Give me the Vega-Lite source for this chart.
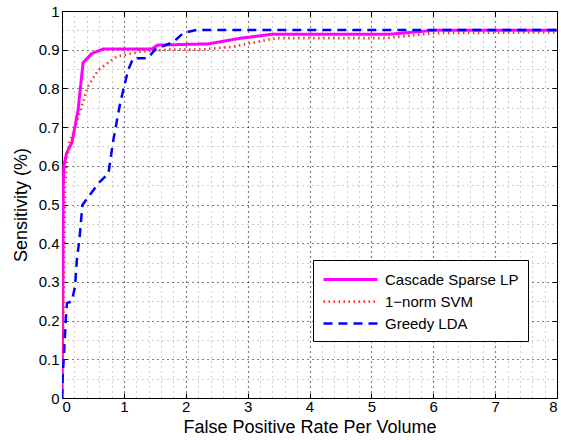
{
  "$schema": "https://vega.github.io/schema/vega-lite/v6.json",
  "width": 495,
  "height": 387,
  "padding": {"left": 62, "top": 11, "right": 4, "bottom": 42},
  "autosize": {"type": "none"},
  "background": "white",
  "config": {
    "font": "Liberation Sans",
    "view": {"stroke": "black", "strokeWidth": 1}
  },
  "data": {"values": [
    {"method": "Cascade Sparse LP", "x": 0, "y": 0},
    {"method": "Cascade Sparse LP", "x": 0.015, "y": 0.3},
    {"method": "Cascade Sparse LP", "x": 0.02, "y": 0.55},
    {"method": "Cascade Sparse LP", "x": 0.03, "y": 0.6},
    {"method": "Cascade Sparse LP", "x": 0.075, "y": 0.633},
    {"method": "Cascade Sparse LP", "x": 0.16, "y": 0.66},
    {"method": "Cascade Sparse LP", "x": 0.26, "y": 0.744},
    {"method": "Cascade Sparse LP", "x": 0.34, "y": 0.866},
    {"method": "Cascade Sparse LP", "x": 0.48, "y": 0.89},
    {"method": "Cascade Sparse LP", "x": 0.67, "y": 0.902},
    {"method": "Cascade Sparse LP", "x": 1.45, "y": 0.902},
    {"method": "Cascade Sparse LP", "x": 1.55, "y": 0.912},
    {"method": "Cascade Sparse LP", "x": 2.36, "y": 0.915},
    {"method": "Cascade Sparse LP", "x": 2.9, "y": 0.93},
    {"method": "Cascade Sparse LP", "x": 3.4, "y": 0.94},
    {"method": "Cascade Sparse LP", "x": 5.3, "y": 0.94},
    {"method": "Cascade Sparse LP", "x": 6.0, "y": 0.95},
    {"method": "Cascade Sparse LP", "x": 8, "y": 0.95},
    {"method": "1−norm SVM", "x": 0, "y": 0},
    {"method": "1−norm SVM", "x": 0.03, "y": 0.3},
    {"method": "1−norm SVM", "x": 0.05, "y": 0.55},
    {"method": "1−norm SVM", "x": 0.08, "y": 0.62},
    {"method": "1−norm SVM", "x": 0.12, "y": 0.66},
    {"method": "1−norm SVM", "x": 0.21, "y": 0.7},
    {"method": "1−norm SVM", "x": 0.42, "y": 0.805},
    {"method": "1−norm SVM", "x": 0.59, "y": 0.848},
    {"method": "1−norm SVM", "x": 0.88, "y": 0.882},
    {"method": "1−norm SVM", "x": 1.26, "y": 0.895},
    {"method": "1−norm SVM", "x": 1.7, "y": 0.9},
    {"method": "1−norm SVM", "x": 2.23, "y": 0.9},
    {"method": "1−norm SVM", "x": 2.77, "y": 0.908},
    {"method": "1−norm SVM", "x": 3.3, "y": 0.925},
    {"method": "1−norm SVM", "x": 3.5, "y": 0.93},
    {"method": "1−norm SVM", "x": 5.25, "y": 0.93},
    {"method": "1−norm SVM", "x": 6.0, "y": 0.943},
    {"method": "1−norm SVM", "x": 8, "y": 0.945},
    {"method": "Greedy LDA", "x": 0, "y": 0},
    {"method": "Greedy LDA", "x": 0.01, "y": 0.05},
    {"method": "Greedy LDA", "x": 0.03, "y": 0.107},
    {"method": "Greedy LDA", "x": 0.06, "y": 0.2},
    {"method": "Greedy LDA", "x": 0.08, "y": 0.245},
    {"method": "Greedy LDA", "x": 0.16, "y": 0.25},
    {"method": "Greedy LDA", "x": 0.21, "y": 0.288},
    {"method": "Greedy LDA", "x": 0.24, "y": 0.357},
    {"method": "Greedy LDA", "x": 0.28, "y": 0.408},
    {"method": "Greedy LDA", "x": 0.33, "y": 0.499},
    {"method": "Greedy LDA", "x": 0.59, "y": 0.555},
    {"method": "Greedy LDA", "x": 0.75, "y": 0.58},
    {"method": "Greedy LDA", "x": 0.83, "y": 0.667},
    {"method": "Greedy LDA", "x": 0.94, "y": 0.762},
    {"method": "Greedy LDA", "x": 1.07, "y": 0.848},
    {"method": "Greedy LDA", "x": 1.15, "y": 0.878},
    {"method": "Greedy LDA", "x": 1.39, "y": 0.878},
    {"method": "Greedy LDA", "x": 1.5, "y": 0.9},
    {"method": "Greedy LDA", "x": 1.8, "y": 0.92},
    {"method": "Greedy LDA", "x": 1.96, "y": 0.943},
    {"method": "Greedy LDA", "x": 2.18, "y": 0.951},
    {"method": "Greedy LDA", "x": 8, "y": 0.951}
  ]},
  "resolve": {"axis": {"x": "independent", "y": "independent"}},
  "layer": [
    {
      "mark": {"type": "line", "clip": true},
      "encoding": {
        "x": {
          "field": "x", "type": "quantitative",
          "scale": {"domain": [0, 8], "nice": false, "zero": false},
          "axis": {
            "title": "False Positive Rate Per Volume",
            "titleFontSize": 18, "titleFontWeight": "normal", "titleColor": "black", "titlePadding": 4,
            "values": [0,0.2,0.4,0.6,0.8,1,1.2,1.4,1.6,1.8,2,2.2,2.4,2.6,2.8,3,3.2,3.4,3.6,3.8,4,4.2,4.4,4.6,4.8,5,5.2,5.4,5.6,5.8,6,6.2,6.4,6.6,6.8,7,7.2,7.4,7.6,7.8,8],
            "labelExpr": "abs(datum.value - round(datum.value)) < 1e-6 ? format(datum.value, 'd') : ''",
            "labelFontSize": 15, "labelColor": "black", "labelPadding": 6,
            "domainColor": "black",
            "tickSize": -5, "tickColor": "black",
            "tickOpacity": {"condition": {"test": "abs(datum.value - round(datum.value)) < 1e-6", "value": 1}, "value": 0},
            "grid": true,
            "gridDash": [1, 4],
            "gridColor": {"condition": {"test": "abs(datum.value - round(datum.value)) < 1e-6", "value": "#000000"}, "value": "#888888"},
            "gridWidth": {"condition": {"test": "abs(datum.value - round(datum.value)) < 1e-6", "value": 1.2}, "value": 0.8}
          }
        },
        "y": {
          "field": "y", "type": "quantitative",
          "scale": {"domain": [0, 1], "nice": false, "zero": false},
          "axis": {
            "title": "Sensitivity (%)",
            "titleFontSize": 18, "titleFontWeight": "normal", "titleColor": "black", "titlePadding": 8,
            "values": [0,0.05,0.1,0.15,0.2,0.25,0.3,0.35,0.4,0.45,0.5,0.55,0.6,0.65,0.7,0.75,0.8,0.85,0.9,0.95,1],
            "labelExpr": "abs(datum.value*10 - round(datum.value*10)) < 1e-6 ? format(datum.value, '~g') : ''",
            "labelFontSize": 15, "labelColor": "black", "labelPadding": 8,
            "domainColor": "black",
            "tickSize": -5, "tickColor": "black",
            "tickOpacity": {"condition": {"test": "abs(datum.value*10 - round(datum.value*10)) < 1e-6", "value": 1}, "value": 0},
            "grid": true,
            "gridDash": [1, 4],
            "gridColor": {"condition": {"test": "abs(datum.value*10 - round(datum.value*10)) < 1e-6", "value": "#000000"}, "value": "#888888"},
            "gridWidth": {"condition": {"test": "abs(datum.value*10 - round(datum.value*10)) < 1e-6", "value": 1.2}, "value": 0.8}
          }
        },
        "color": {
          "field": "method", "type": "nominal",
          "scale": {"domain": ["Cascade Sparse LP", "1−norm SVM", "Greedy LDA"], "range": ["#ff00ff", "#ff3030", "#0000ff"]},
          "legend": {
            "title": null, "orient": "none", "legendX": 251, "legendY": 249,
            "fillColor": "white", "strokeColor": "black", "padding": 9,
            "symbolType": "M-1,0H5", "symbolSize": 324, "symbolStrokeWidth": 3,
            "labelFontSize": 15, "labelColor": "black", "labelLimit": 300,
            "labelExpr": "datum.label + '\u2002\u2002'",
            "rowPadding": 3, "labelOffset": 42
          }
        },
        "strokeDash": {
          "field": "method", "type": "nominal",
          "scale": {"domain": ["Cascade Sparse LP", "1−norm SVM", "Greedy LDA"], "range": [[1, 0], [1.5, 3.5], [9, 6]]},
          "legend": null
        },
        "strokeWidth": {
          "field": "method", "type": "nominal",
          "scale": {"domain": ["Cascade Sparse LP", "1−norm SVM", "Greedy LDA"], "range": [3, 2.5, 3]},
          "legend": null
        }
      }
    },
    {
      "mark": {"type": "point", "opacity": 0},
      "encoding": {
        "x": {
          "field": "x", "type": "quantitative",
          "axis": {"orient": "top", "title": null, "labels": false, "grid": false, "domain": false,
                   "values": [0,1,2,3,4,5,6,7,8], "tickSize": -5, "tickColor": "black"}
        },
        "y": {
          "field": "y", "type": "quantitative",
          "axis": {"orient": "right", "title": null, "labels": false, "grid": false, "domain": false,
                   "values": [0,0.1,0.2,0.3,0.4,0.5,0.6,0.7,0.8,0.9,1], "tickSize": -5, "tickColor": "black"}
        }
      }
    }
  ]
}
